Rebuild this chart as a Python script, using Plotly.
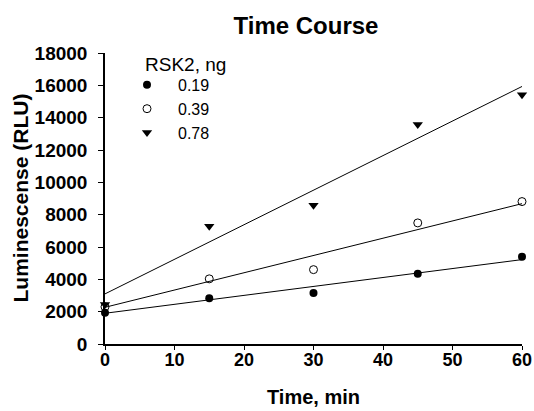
import plotly.graph_objects as go

# Data
time_min = [0, 15, 30, 45, 60]
rlu_019 = [1930, 2830, 3160, 4340, 5390]
rlu_039 = [2300, 4030, 4600, 7490, 8810]
rlu_078 = [2440, 7280, 8580, 13570, 15420]

# Fitted trend lines (values at t=0 and t=60 min)
fit_x = [0, 60]
fit_019 = [1900, 5220]
fit_039 = [2270, 8680]
fit_078 = [3100, 15930]

series_names = ["0.19", "0.39", "0.78"]
x_ticks = [0, 10, 20, 30, 40, 50, 60]
y_ticks = [0, 2000, 4000, 6000, 8000, 10000, 12000, 14000, 16000, 18000]
y_tick_labels = [str(v) for v in y_ticks]

FONT = "Arial, 'Liberation Sans', sans-serif"

fig = go.Figure()

for fy in (fit_019, fit_039, fit_078):
    fig.add_trace(go.Scatter(x=fit_x, y=fy, mode="lines",
                             line=dict(color="black", width=1),
                             showlegend=False, hoverinfo="skip"))

fig.add_trace(go.Scatter(x=time_min, y=rlu_019, mode="markers", name=series_names[0],
                         marker=dict(symbol="circle", size=8, color="black"),
                         cliponaxis=False))
fig.add_trace(go.Scatter(x=time_min, y=rlu_039, mode="markers", name=series_names[1],
                         marker=dict(symbol="circle-open", size=8, color="black",
                                     line=dict(width=1, color="black")),
                         cliponaxis=False))
fig.add_trace(go.Scatter(x=time_min, y=rlu_078, mode="markers", name=series_names[2],
                         marker=dict(symbol="triangle-down", size=9, color="black"),
                         cliponaxis=False))

PH = 344.5 - 53
PW = 522 - 105

fig.update_layout(
    width=534, height=411,
    margin=dict(l=105, r=12, t=53, b=66.5),
    paper_bgcolor="white", plot_bgcolor="white",
    font=dict(family=FONT, color="black"),
    title=dict(text="<b>Time Course</b>", font=dict(size=24, family=FONT),
               x=(306 - 105) / PW, xref="paper", xanchor="center",
               y=1 - 26 / 411, yref="container", yanchor="middle", automargin=False),
    showlegend=True,
    legend=dict(x=(116 - 105) / PW, y=1 - (68 - 53) / PH, xanchor="left", yanchor="top",
                font=dict(size=16, family=FONT), itemwidth=52,
                bgcolor="rgba(0,0,0,0)", borderwidth=0),
    annotations=[
        dict(text="RSK2, ng", x=(143 - 105) / PW, y=1 - (65 - 53) / PH,
             xref="paper", yref="paper", xanchor="left", yanchor="middle",
             showarrow=False, font=dict(size=19, family=FONT)),
        dict(text="<b>Luminescense (RLU)</b>", textangle=-90,
             x=(20 - 105) / PW, y=0.5, xref="paper", yref="paper",
             xanchor="center", yanchor="middle", showarrow=False,
             font=dict(size=21, family=FONT)),
    ],
)

fig.update_xaxes(range=[0, 60], tickvals=x_ticks, showgrid=False, zeroline=False,
                 showline=True, linecolor="black", linewidth=1.5, automargin=False,
                 ticks="outside", ticklen=4, tickcolor="black", tickwidth=1,
                 ticklabelstandoff=-5,
                 tickfont=dict(size=18, family=FONT, weight="bold"),
                 title=dict(text="<b>Time, min</b>", font=dict(size=20, family=FONT),
                            standoff=21))
fig.update_yaxes(range=[0, 18000], tickvals=y_ticks, ticktext=y_tick_labels,
                 showgrid=False, zeroline=False,
                 showline=True, linecolor="black", linewidth=1.5, automargin=False,
                 ticks="outside", ticklen=5, tickcolor="black", tickwidth=1,
                 ticklabelstandoff=7,
                 tickfont=dict(size=19, family=FONT, weight="bold"))

fig.write_html("out.html", config={"displayModeBar": False},
               post_script="document.body.style.margin='0';")
